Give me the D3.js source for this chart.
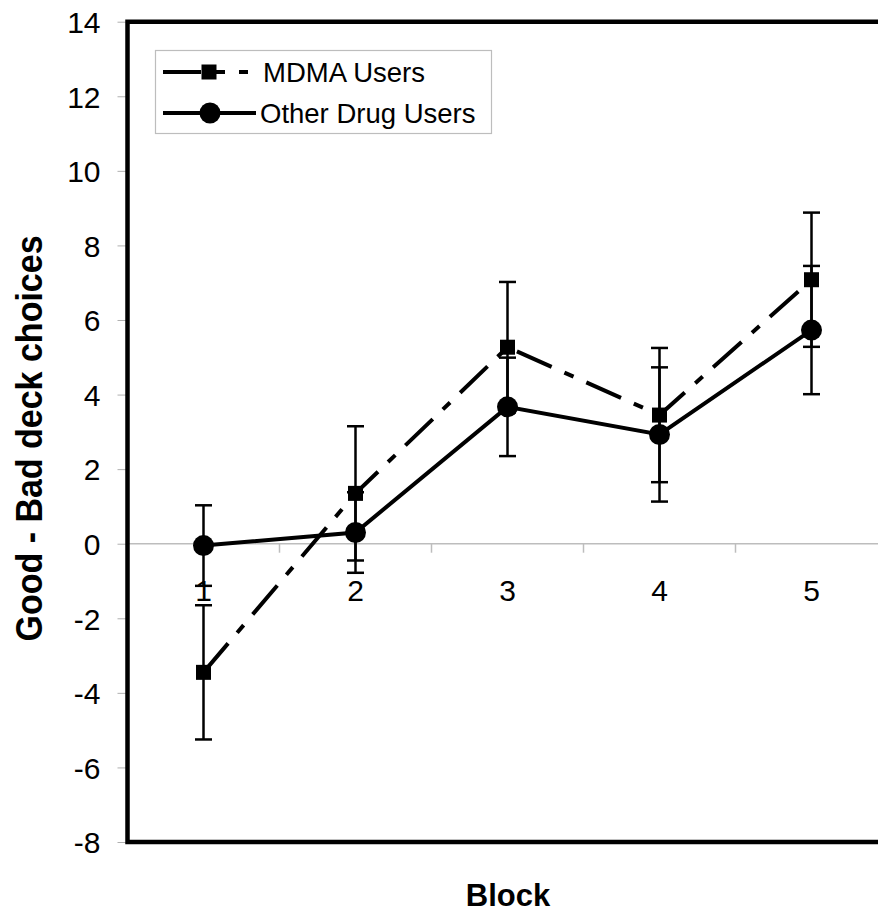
<!DOCTYPE html>
<html>
<head>
<meta charset="utf-8">
<script src="https://cdn.jsdelivr.net/npm/d3@7"></script>
<style>
  body { margin: 0; background: #fff; }
  svg { display: block; font-family: "Liberation Sans", Arial, sans-serif; }
</style>
</head>
<body>
<svg id="chart" width="878" height="915"></svg>
<script>
// data
const blocks = ['1', '2', '3', '4', '5'];
const mdmaMeans = [-3.45, 1.35, 5.27, 3.45, 7.08];
const mdmaErr = [1.8, 1.8, 1.75, 1.8, 1.8];
const otherMeans = [-0.05, 0.3, 3.67, 2.93, 5.73];
const otherErr = [1.08, 1.08, 1.32, 1.8, 1.72];
const yTicks = [-8, -6, -4, -2, 0, 2, 4, 6, 8, 10, 12, 14];
const seriesNames = ['MDMA Users', 'Other Drug Users'];

const svg = d3.select('#chart');

// plot area runs off the right edge of the picture, like the original
const plotLeft = 127.5, plotRight = 887.5, plotTop = 21.7, plotBottom = 842;

const x = d3.scaleBand().domain(blocks).range([plotLeft, plotRight]).padding(0);
const y = d3.scaleLinear().domain([-8, 14]).range([plotBottom, plotTop]);
const cx = d => x(d) + x.bandwidth() / 2;

// y axis (ticks + labels), plain hyphen for negatives
const yAxis = svg.append('g')
  .attr('transform', `translate(${plotLeft},0)`)
  .call(d3.axisLeft(y).tickValues(yTicks).tickSize(10).tickPadding(17).tickFormat(d => String(d)));
yAxis.select('.domain').remove();
yAxis.selectAll('.tick line').attr('stroke', '#b0b0b0').attr('stroke-width', 1);
yAxis.selectAll('.tick text')
  .attr('font-size', 30)
  .attr('fill', '#000')
  .attr('font-family', '"Liberation Sans", Arial, sans-serif')
  .attr('dy', '0.36em');

// zero line with category labels underneath
const zeroY = y(0);
svg.append('line')
  .attr('x1', plotLeft).attr('x2', plotRight)
  .attr('y1', zeroY).attr('y2', zeroY)
  .attr('stroke', '#bdbdbd').attr('stroke-width', 1.5);

// tick marks sit on the category boundaries
svg.selectAll('.xtick')
  .data(blocks.slice(1))
  .enter().append('line')
  .attr('class', 'xtick')
  .attr('x1', d => x(d)).attr('x2', d => x(d))
  .attr('y1', zeroY).attr('y2', zeroY + 9)
  .attr('stroke', '#bdbdbd').attr('stroke-width', 1.5);

const xAxis = svg.append('g')
  .attr('transform', `translate(0,${zeroY})`)
  .call(d3.axisBottom(x).tickSize(0).tickPadding(36));
xAxis.select('.domain').remove();
xAxis.selectAll('.tick text')
  .attr('font-size', 30)
  .attr('fill', '#000')
  .attr('font-family', '"Liberation Sans", Arial, sans-serif');

// frame (left, top, bottom; right side is cut off)
svg.append('path')
  .attr('d', `M${plotRight},${plotTop} L${plotLeft},${plotTop} L${plotLeft},${plotBottom} L${plotRight},${plotBottom}`)
  .attr('fill', 'none')
  .attr('stroke', '#000')
  .attr('stroke-width', 4.5);

// axis titles (the original glyphs are a little taller than wide)
svg.append('text')
  .attr('transform', `translate(42,${(232 + 645) / 2}) rotate(-90) scale(1,1.08)`)
  .attr('text-anchor', 'middle')
  .attr('font-size', 34)
  .attr('font-weight', 'bold')
  .text('Good - Bad deck choices');

svg.append('text')
  .attr('x', 508).attr('y', 906)
  .attr('text-anchor', 'middle')
  .attr('font-size', 31)
  .attr('font-weight', 'bold')
  .text('Block');

// series
const mdma = blocks.map((b, i) => ({ b, v: mdmaMeans[i], e: mdmaErr[i] }));
const other = blocks.map((b, i) => ({ b, v: otherMeans[i], e: otherErr[i] }));
const line = d3.line().x(d => cx(d.b)).y(d => y(d.v));
const dashPattern = '38,14,10,14';

svg.append('path')
  .datum(mdma)
  .attr('d', line)
  .attr('fill', 'none')
  .attr('stroke', '#000')
  .attr('stroke-width', 4)
  .attr('stroke-dasharray', dashPattern);

svg.append('path')
  .datum(other)
  .attr('d', line)
  .attr('fill', 'none')
  .attr('stroke', '#000')
  .attr('stroke-width', 4);

// error bars
function errorBars(data, cls) {
  const g = svg.append('g').attr('class', cls);
  g.selectAll('.stem').data(data).enter().append('line')
    .attr('x1', d => cx(d.b)).attr('x2', d => cx(d.b))
    .attr('y1', d => y(d.v - d.e)).attr('y2', d => y(d.v + d.e))
    .attr('stroke', '#000').attr('stroke-width', 2.5);
  ['lo', 'hi'].forEach(k => {
    g.selectAll('.cap-' + k).data(data).enter().append('line')
      .attr('x1', d => cx(d.b) - 8.5).attr('x2', d => cx(d.b) + 8.5)
      .attr('y1', d => y(k === 'lo' ? d.v - d.e : d.v + d.e))
      .attr('y2', d => y(k === 'lo' ? d.v - d.e : d.v + d.e))
      .attr('stroke', '#000').attr('stroke-width', 2.5);
  });
}
errorBars(mdma, 'err-mdma');
errorBars(other, 'err-other');

// markers
const sq = 15;
svg.selectAll('.sq').data(mdma).enter().append('rect')
  .attr('class', 'sq')
  .attr('x', d => cx(d.b) - sq / 2).attr('y', d => y(d.v) - sq / 2)
  .attr('width', sq).attr('height', sq)
  .attr('fill', '#000');

svg.selectAll('.dot').data(other).enter().append('circle')
  .attr('class', 'dot')
  .attr('cx', d => cx(d.b)).attr('cy', d => y(d.v))
  .attr('r', 10.5)
  .attr('fill', '#000');

// legend
const legend = svg.append('g');
legend.append('rect')
  .attr('x', 155.5).attr('y', 50.5).attr('width', 336).attr('height', 83)
  .attr('fill', '#fff').attr('stroke', '#bdbdbd').attr('stroke-width', 1.2);

const rows = [72, 113];
legend.append('line')
  .attr('x1', 163).attr('x2', 248).attr('y1', rows[0]).attr('y2', rows[0])
  .attr('stroke', '#000').attr('stroke-width', 4)
  .attr('stroke-dasharray', dashPattern);
legend.append('rect')
  .attr('x', 209 - sq / 2).attr('y', rows[0] - sq / 2).attr('width', sq).attr('height', sq)
  .attr('fill', '#000');
legend.append('line')
  .attr('x1', 163).attr('x2', 256).attr('y1', rows[1]).attr('y2', rows[1])
  .attr('stroke', '#000').attr('stroke-width', 4);
legend.append('circle')
  .attr('cx', 210).attr('cy', rows[1]).attr('r', 10.5).attr('fill', '#000');

legend.selectAll('.ltext').data(seriesNames).enter().append('text')
  .attr('class', 'ltext')
  .attr('x', (d, i) => i === 0 ? 263 : 260)
  .attr('y', (d, i) => rows[i])
  .attr('dy', '0.36em')
  .attr('font-size', 27.5)
  .text(d => d);
</script>
</body>
</html>
